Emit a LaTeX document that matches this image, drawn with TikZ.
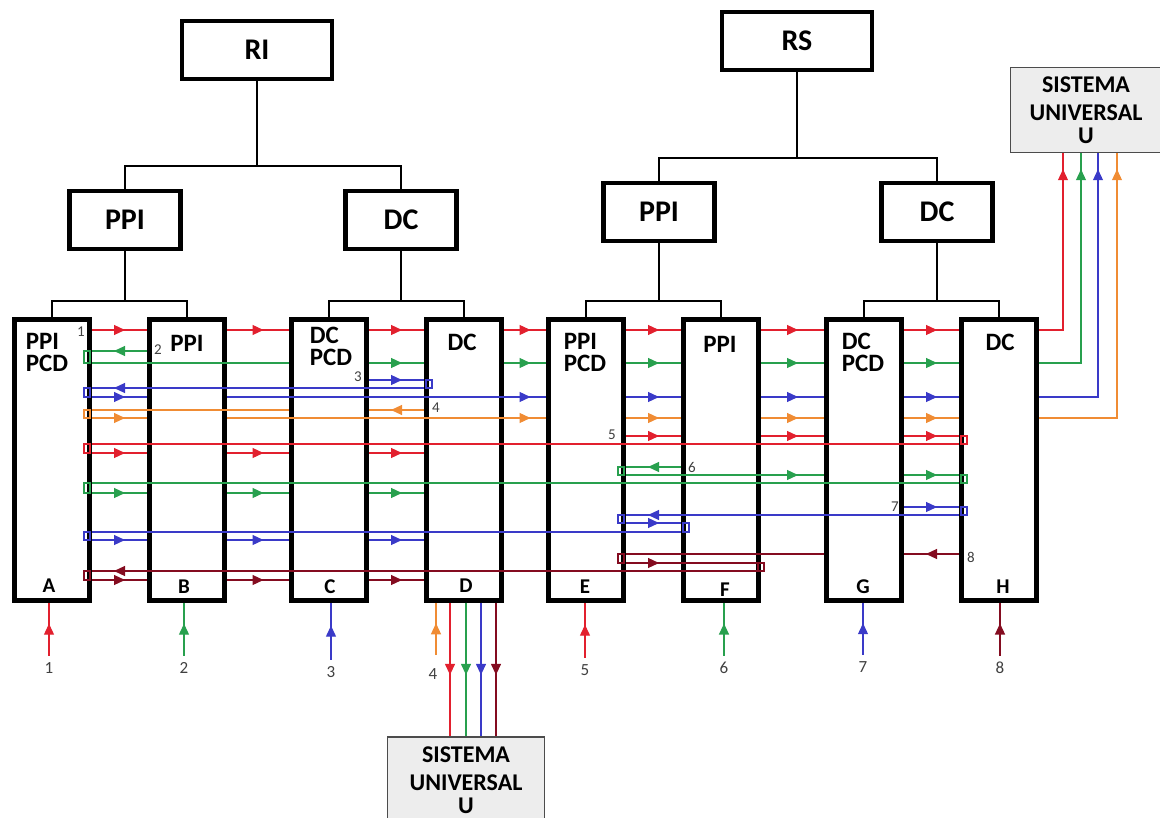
\documentclass[tikz,border=0pt]{standalone}
\usepackage{fontspec}
\setmainfont{Carlito}
\usetikzlibrary{arrows.meta,decorations.markings,calc}

\definecolor{lnred}{RGB}{226,32,46}
\definecolor{lngrn}{RGB}{40,160,78}
\definecolor{lnblu}{RGB}{58,58,200}
\definecolor{lnorg}{RGB}{240,140,52}
\definecolor{lnmar}{RGB}{132,12,32}

\tikzset{
  tri/.tip={Triangle[length=11pt,width=10pt]},
  midarr/.style={postaction={decorate},decoration={markings,mark=at position 0.5 with {\arrow[xshift=5.5pt]{tri}}}},
  upend/.style={postaction={decorate},decoration={markings,mark=at position -16pt with {\arrow{tri}}}},
  topbox/.style={draw,line width=4.5pt,minimum width=111pt,minimum height=58pt,font=\fontsize{30}{32}\selectfont\bfseries},
  unit/.style={draw,line width=5pt,fill=white,minimum width=75pt,minimum height=280pt},
  ulbl/.style={inner sep=0pt,align=left,font=\fontsize{25}{22}\selectfont\bfseries},
  letter/.style={inner sep=0pt,font=\fontsize{21}{22}\selectfont\bfseries},
  num/.style={inner sep=0pt,font=\fontsize{15}{16}\selectfont,text=black!75},
  bnum/.style={inner sep=0pt,font=\fontsize{17}{18}\selectfont,text=black!75},
  sysbox/.style={draw=black!70,line width=1.5pt,fill=black!7,align=center,font=\fontsize{24}{25}\selectfont\bfseries},
}

\newcommand\chain[3]{\foreach \p/\q in {#3} \draw[#1,midarr] (\p.east |- 0,#2) -- (\q.west |- 0,#2);}
\newcommand\tap[5]{\draw[#1] ($(#2 |- 0,#3)+(#5,0)$) rectangle ($(#2 |- 0,#4)+(#5+6,0)$);}

\begin{document}
\begin{tikzpicture}[x=1pt,y=-1pt,line width=1.2pt]
	\useasboundingbox (0,0) rectangle (1160,818);

	% upper tree
	\node[topbox,minimum width=150pt] (ri) at (257,50) {RI};
	\node[topbox] (ppil) at (125,220) {PPI};
	\node[topbox] (dcl) at (401,220) {DC};
	\node[topbox,minimum width=150pt] (rs) at (797,41) {RS};
	\node[topbox] (ppir) at (659,212) {PPI};
	\node[topbox] (dcr) at (937,212) {DC};

	% units
	\node[unit] (a) at (52,460) {};
	\node[unit] (b) at (187,460) {};
	\node[unit] (c) at (329,460) {};
	\node[unit] (d) at (464,460) {};
	\node[unit] (e) at (586,460) {};
	\node[unit] (f) at (721,460) {};
	\node[unit] (g) at (864,460) {};
	\node[unit] (h) at (999,460) {};

	\node[ulbl] (ta) at (47,352) {PPI\\PCD};
	\node[ulbl] (tb) at (187,343) {PPI};
	\node[ulbl] (tc) at (331,346) {DC\\PCD};
	\node[ulbl] (td) at (462,342) {DC};
	\node[ulbl] (te) at (585,352) {PPI\\PCD};
	\node[ulbl] (tf) at (720,344) {PPI};
	\node[ulbl] (tg) at (863,352) {DC\\PCD};
	\node[ulbl] (th) at (1000,342) {DC};

	\node[letter] (la) at (49,586) {A};
	\node[letter] (lb) at (184,587) {B};
	\node[letter] (lc) at (330,587) {C};
	\node[letter] (ld) at (466,586) {D};
	\node[letter] (le) at (585,587) {E};
	\node[letter] (lf) at (725,590) {F};
	\node[letter] (lg) at (863,587) {G};
	\node[letter] (lh) at (1003,587) {H};

	\node[num] (k1) at (81,332) {1};
	\node[num] (k2) at (158,350) {2};
	\node[num] (k3) at (358,377) {3};
	\node[num] (k4) at (436,408) {4};
	\node[num] (k5) at (612,435) {5};
	\node[num] (k6) at (692,467) {6};
	\node[num] (k7) at (895,507) {7};
	\node[num] (k8) at (971,557) {8};

	\node[sysbox,minimum width=151pt,minimum height=85pt] (su1) at (1086,110) {SISTEMA\\[3pt]UNIVERSAL\\[-2pt]U};
	\node[sysbox,minimum width=157pt,minimum height=86pt] (su2) at (466,780) {SISTEMA\\[3pt]UNIVERSAL\\[-2pt]U};

	% tree lines
	\draw (ri.south) -- (ri.south |- 0,166);
	\draw (ppil.north) |- (ri.south |- 0,166) -| (dcl.north);
	\draw (rs.south) -- (rs.south |- 0,158);
	\draw (ppir.north) |- (rs.south |- 0,158) -| (dcr.north);
	\draw (ppil.south) -- (ppil.south |- 0,301);
	\draw (a.north) |- (ppil.south |- 0,301) -| (b.north);
	\draw (dcl.south) -- (dcl.south |- 0,301);
	\draw (c.north) |- (dcl.south |- 0,301) -| (d.north);
	\draw (ppir.south) -- (ppir.south |- 0,301);
	\draw (e.north) |- (ppir.south |- 0,301) -| (f.north);
	\draw (dcr.south) -- (dcr.south |- 0,301);
	\draw (g.north) |- (dcr.south |- 0,301) -| (h.north);

	% 1
	\chain{lnred}{330}{a/b,b/c,c/d,d/e,e/f,f/g,g/h}
	\draw[lnred,upend] (h.east |- 0,330) -| (su1.south -| 1063,0);
	% 2
	\draw[lngrn,midarr] (b.west |- 0,351) -- (a.east |- 0,351);
	\tap{lngrn}{a.east}{351}{363}{-8}
	\draw[lngrn] (a.east |- 0,363) -- (c.west |- 0,363);
	\chain{lngrn}{363}{c/d,d/e,e/f,f/g,g/h}
	\draw[lngrn,upend] (h.east |- 0,363) -| (su1.south -| 1081,0);
	% 3
	\chain{lnblu}{380}{c/d}
	\tap{lnblu}{d.west}{380}{388}{2}
	\draw[lnblu] (d.west |- 0,388) -- (b.west |- 0,388);
	\draw[lnblu,midarr] (b.west |- 0,388) -- (a.east |- 0,388);
	\tap{lnblu}{a.east}{388}{397}{-8}
	\chain{lnblu}{397}{a/b}
	\draw[lnblu] (b.east |- 0,397) -- (e.west |- 0,397);
	\chain{lnblu}{397}{d/e,e/f,f/g,g/h}
	\draw[lnblu,upend] (h.east |- 0,397) -| (su1.south -| 1098,0);
	% 4
	\draw[lnorg,midarr] (d.west |- 0,410) -- (c.east |- 0,410);
	\draw[lnorg] (c.west |- 0,410) -- (a.east |- 0,410);
	\tap{lnorg}{a.east}{410}{418}{-8}
	\chain{lnorg}{418}{a/b}
	\draw[lnorg] (b.east |- 0,418) -- (e.west |- 0,418);
	\chain{lnorg}{418}{d/e,e/f,f/g,g/h}
	\draw[lnorg,upend] (h.east |- 0,418) -| (su1.south -| 1117,0);
	% 5
	\chain{lnred}{436}{e/f,f/g,g/h}
	\tap{lnred}{h.west}{436}{444}{2}
	\draw[lnred] (h.west |- 0,444) -- (a.east |- 0,444);
	\tap{lnred}{a.east}{444}{453}{-8}
	\chain{lnred}{453}{a/b,b/c,c/d}
	% 6
	\draw[lngrn,midarr] (f.west |- 0,467) -- (e.east |- 0,467);
	\tap{lngrn}{e.east}{467}{475}{-8}
	\draw[lngrn] (e.east |- 0,475) -- (f.east |- 0,475);
	\chain{lngrn}{475}{f/g,g/h}
	\tap{lngrn}{h.west}{475}{483}{2}
	\draw[lngrn] (h.west |- 0,483) -- (a.east |- 0,483);
	\tap{lngrn}{a.east}{483}{493}{-8}
	\chain{lngrn}{493}{a/b,b/c,c/d}
	% 7
	\chain{lnblu}{507}{g/h}
	\tap{lnblu}{h.west}{507}{515}{2}
	\draw[lnblu] (h.west |- 0,515) -- (f.west |- 0,515);
	\draw[lnblu,midarr] (f.west |- 0,515) -- (e.east |- 0,515);
	\tap{lnblu}{e.east}{515}{523}{-8}
	\chain{lnblu}{523}{e/f}
	\tap{lnblu}{f.west}{523}{532}{2}
	\draw[lnblu] (f.west |- 0,532) -- (a.east |- 0,532);
	\tap{lnblu}{a.east}{532}{540}{-8}
	\chain{lnblu}{540}{a/b,b/c,c/d}
	% 8
	\draw[lnmar,midarr] (h.west |- 0,554) -- (g.east |- 0,554);
	\draw[lnmar] (g.west |- 0,554) -- (e.east |- 0,554);
	\tap{lnmar}{e.east}{554}{563}{-8}
	\draw[lnmar,midarr] (e.east |- 0,563) -- (f.west |- 0,563);
	\draw[lnmar] (f.west |- 0,563) -- (f.east |- 0,563);
	\tap{lnmar}{f.east}{563}{571}{-3}
	\draw[lnmar] (f.east |- 0,571) -- (b.west |- 0,571);
	\draw[lnmar,midarr] (b.west |- 0,571) -- (a.east |- 0,571);
	\tap{lnmar}{a.east}{571}{580}{-8}
	\chain{lnmar}{580}{a/b,b/c,c/d}

	% out of D
	\draw[lnred,midarr] (d.south -| 450,0) -- (su2.north -| 450,0);
	\draw[lngrn,midarr] (d.south -| 466,0) -- (su2.north -| 466,0);
	\draw[lnblu,midarr] (d.south -| 481,0) -- (su2.north -| 481,0);
	\draw[lnmar,midarr] (d.south -| 496,0) -- (su2.north -| 496,0);

	% inputs
	\node[bnum] (n1) at (49,668) {1};
	\node[bnum] (n2) at (184,668) {2};
	\node[bnum] (n3) at (331,672) {3};
	\node[bnum] (n4) at (433,674) {4};
	\node[bnum] (n5) at (585,670) {5};
	\node[bnum] (n6) at (724,668) {6};
	\node[bnum] (n7) at (863,667) {7};
	\node[bnum] (n8) at (1000,668) {8};
	\coordinate (in4) at (436,655);

	\draw[lnred,midarr] ([yshift=6pt]n1.north) -- (a.south -| n1.north);
	\draw[lngrn,midarr] ([yshift=6pt]n2.north) -- (b.south -| n2.north);
	\draw[lnblu,midarr] ([yshift=6pt]n3.north) -- (c.south -| n3.north);
	\draw[lnorg,midarr] (in4) -- (d.south -| in4);
	\draw[lnred,midarr] ([yshift=6pt]n5.north) -- (e.south -| n5.north);
	\draw[lngrn,midarr] ([yshift=6pt]n6.north) -- (f.south -| n6.north);
	\draw[lnblu,midarr] ([yshift=6pt]n7.north) -- (g.south -| n7.north);
	\draw[lnmar,midarr] ([yshift=6pt]n8.north) -- (h.south -| n8.north);
\end{tikzpicture}
\end{document}
